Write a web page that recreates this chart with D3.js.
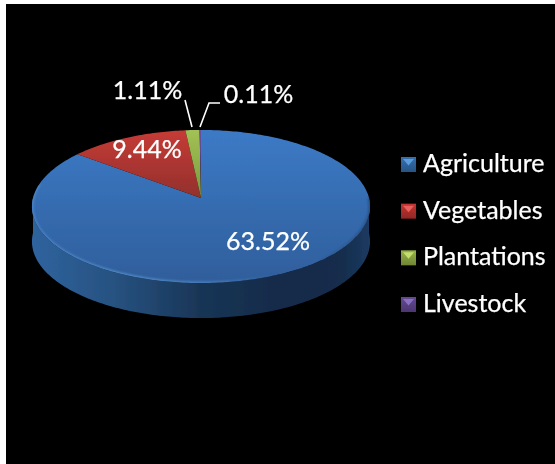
<!DOCTYPE html>
<html><head><meta charset="utf-8">
<script src="https://cdn.jsdelivr.net/npm/d3@7"></script>
<style>html,body{margin:0;padding:0;background:#fff}svg{display:block}text{font-family:Lato,sans-serif;fill:#fff;stroke:#fff;stroke-width:0.25px}</style>
</head><body><div id="c"></div>
<script>
const categories = ["Agriculture","Vegetables","Plantations","Livestock"];
const values = [63.52,9.44,1.11,0.11];
const labels = ["63.52%","9.44%","1.11%","0.11%"];
const topColors = ["#3c7ac6","#c63b36","#a2c255","#6a50a0"];
const bottomColors = ["#2f5e9b","#92302c","#7a9a3e","#4f3c80"];
const markerColors = ["#2f659f","#b02f2c","#86a040","#5b4186"];
const markerLight = ["#5c9bdc","#e8605c","#c4dc70","#8a70c0"];
const W=555,H=464;
const svg=d3.select("#c").append("svg").attr("width",W).attr("height",H);
const defs=svg.append("defs");
svg.append("rect").attr("x",6).attr("y",4).attr("width",W-6).attr("height",H-4).attr("fill","#000");

const soft=defs.append("filter").attr("id","soft").attr("x","-5%").attr("y","-5%").attr("width","110%").attr("height","110%");
soft.append("feGaussianBlur").attr("stdDeviation",0.55);
const softT=defs.append("filter").attr("id","softT").attr("x","-5%").attr("y","-20%").attr("width","110%").attr("height","140%");
softT.append("feGaussianBlur").attr("stdDeviation",0.4);
const rim=defs.append("filter").attr("id","rim").attr("x","-5%").attr("y","-5%").attr("width","110%").attr("height","110%");
rim.append("feGaussianBlur").attr("stdDeviation",1.1);

// projection of the pie disc: perspective, apex at (cx,cy)
const cx=201,cy=198,k=168,a=75.6,c=0.111,depth=35;
const project=(ang,r=1,dy=0)=>{
  const u=Math.sin(ang)*r, v=-Math.cos(ang)*r, d=1-c*v;
  return [cx+k*u/d, cy+a*v/d+dy];
};
const line=d3.line();
const pie=d3.pie().sort(null).value(d=>d);
const arcs=pie(values);
const sampled=(a0,a1,dy=0)=>d3.range(0,1.0001,1/Math.max(4,Math.ceil((a1-a0)*60))).map(t=>project(a0+(a1-a0)*t,1,dy));
const faceTop=cy-a/(1+c), faceBot=cy+a/(1-c);

const g=svg.append("g").attr("filter","url(#soft)");

// side wall
const side=defs.append("linearGradient").attr("id","side").attr("gradientUnits","userSpaceOnUse")
  .attr("x1",cx-k).attr("x2",cx+k).attr("y1",0).attr("y2",0);
[[0,"#2f639e"],[0.25,"#26517f"],[0.5,"#193556"],[0.75,"#152a48"],[0.92,"#162d4c"],[1,"#1b3a60"]]
  .forEach(s=>side.append("stop").attr("offset",s[0]).attr("stop-color",s[1]));
const frontA=Math.PI*0.5, frontB=Math.PI*1.5;
g.append("path")
 .attr("d",line(sampled(frontA,frontB,0).concat(sampled(frontA,frontB,depth).reverse()))+"Z")
 .attr("fill","url(#side)");

// top face slices
arcs.forEach((d,i)=>{
  const gr=defs.append("linearGradient").attr("id","f"+i).attr("gradientUnits","userSpaceOnUse")
    .attr("x1",0).attr("x2",0).attr("y1",faceTop).attr("y2",i===0?faceBot:cy);
  gr.append("stop").attr("offset",0).attr("stop-color",topColors[i]);
  gr.append("stop").attr("offset",1).attr("stop-color",bottomColors[i]);
  g.append("path").attr("d",line([[cx,cy]].concat(sampled(d.startAngle,d.endAngle)))+"Z").attr("fill","url(#f"+i+")");
});

// bevel highlight on the blue slice rim
defs.append("clipPath").attr("id","faceClip").append("path").attr("d",line(sampled(0,Math.PI*2))+"Z");
const rimG=defs.append("linearGradient").attr("id","rimG").attr("gradientUnits","userSpaceOnUse")
  .attr("x1",cx-k).attr("x2",cx+k).attr("y1",0).attr("y2",0);
[[0,"#5f9cdc",0.5],[0.3,"#6aaae8",0.6],[0.55,"#6aaae8",0.4],[0.72,"#5a90cc",0],[0.85,"#1c3a60",0],[1,"#1c3a60",0.6]]
  .forEach(s=>rimG.append("stop").attr("offset",s[0]).attr("stop-color",s[1]).attr("stop-opacity",s[2]));
g.append("g").attr("clip-path","url(#faceClip)").append("path")
  .attr("d",line(sampled(Math.PI*0.5,Math.PI*1.56)))
  .attr("fill","none").attr("stroke","url(#rimG)").attr("stroke-width",3).attr("filter","url(#rim)");

// leader lines
const leaders=[[[185,100],[192,127]],[[220,103],[209,103],[200,127]]];
leaders.forEach(p=>g.append("path").attr("d",line(p)).attr("fill","none").attr("stroke","#fff").attr("stroke-width",1.6));

// data labels
const labelPos=[[268,250],[147,158],[147.5,99],[258.5,103]];
const tg=svg.append("g").attr("filter","url(#softT)");
labels.forEach((t,i)=>tg.append("text").attr("x",labelPos[i][0]).attr("y",labelPos[i][1])
  .attr("text-anchor","middle").attr("font-size",25).text(t));

// legend
const yLeg=d3.scalePoint().domain(categories).range([164.5,304.5]);
categories.forEach((n,i)=>{
  const y=yLeg(n), m=svg.append("g").attr("filter","url(#softT)");
  const gr=defs.append("linearGradient").attr("id","m"+i).attr("x1",0).attr("x2",0).attr("y1",0).attr("y2",1);
  gr.append("stop").attr("offset",0).attr("stop-color",d3.color(markerColors[i]).brighter(0.3));
  gr.append("stop").attr("offset",1).attr("stop-color",d3.color(markerColors[i]).darker(0.5));
  m.append("rect").attr("x",401).attr("y",y-7.5).attr("width",15).attr("height",15).attr("fill","url(#m"+i+")");
  m.append("path").attr("d",line([[403,y-5.5],[414,y-5.5],[408.5,y+1]])+"Z").attr("fill",markerLight[i]);
  tg.append("text").attr("x",423).attr("y",y+7.5).attr("font-size",25).text(n);
});
</script></body></html>
